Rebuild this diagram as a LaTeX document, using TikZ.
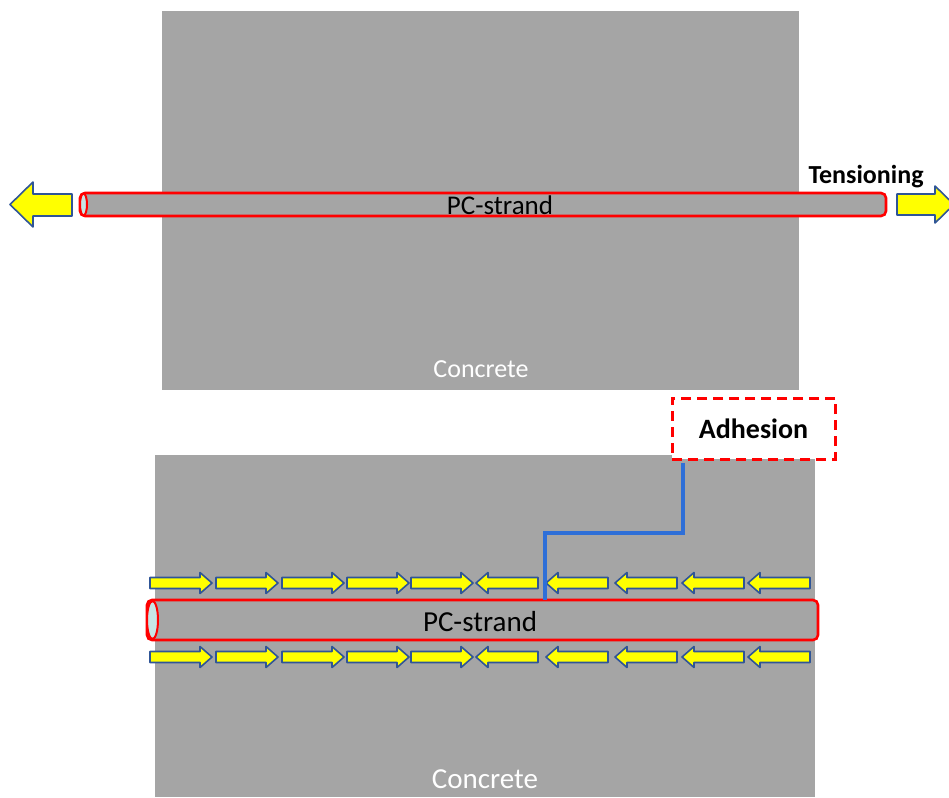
\documentclass[tikz,border=0pt]{standalone}
\usepackage{fontspec}
\setmainfont{Carlito}
\usetikzlibrary{positioning}
\definecolor{concretegray}{HTML}{A5A5A5}
\definecolor{strandred}{HTML}{FF0000}
\definecolor{arrowyellow}{HTML}{FFFF00}
\definecolor{arrowblue}{HTML}{2F5597}
\definecolor{bondblue}{HTML}{2E6FD8}
\tikzset{
  pics/bondarrow/.style={code={
    \draw[smallarrow] (0,-5.5) -- (50,-5.5) -- (50,-10.5) -- (62,0) -- (50,10.5) -- (50,5.5) -- (0,5.5) -- cycle;
  }}
}

\begin{document}
\begin{tikzpicture}[x=1pt,y=-1pt,
  concrete/.style={fill=concretegray},
  strand/.style={draw=strandred, line width=2.6pt, fill=concretegray, rounded corners=5pt, inner sep=0pt, outer sep=0pt},
  strandend/.style={draw=strandred, line width=2pt, fill=concretegray!70!cyan!40},
  bigarrow/.style={draw=arrowblue, line width=1.6pt, fill=arrowyellow, line join=round},
  smallarrow/.style={draw=arrowblue, line width=1.6pt, fill=arrowyellow, line join=round},
  concretelabel/.style={text=white, font=\fontsize{26}{28}\selectfont},
  strandlabel/.style={text=black, font=\fontsize{27}{29}\selectfont},
  boldlabel/.style={text=black, font=\bfseries\fontsize{26}{28}\selectfont},
  adhbox/.style={draw=strandred, line width=3pt, dash pattern=on 10pt off 6pt, fill=white, inner sep=0pt, font=\bfseries\fontsize{28}{30}\selectfont},
  bondline/.style={draw=bondblue, line width=4pt}]
  \useasboundingbox (0,0) rectangle (949,797);
  \clip (0,0) rectangle (949,797);

  % upper block: tensioning
  \fill[concrete] (162,11) rectangle (799,390);
  \node[concretelabel] (concA) at (481,369) {Concrete};
  \node[strand, minimum width=806pt, minimum height=23pt] (strandA) at (483,204.5) {};
  \draw[strandend] ([xshift=3.5pt]strandA.west) ellipse [x radius=3.5pt, y radius=11pt];
  \node[strandlabel] (labelA) at (500,205) {PC-strand};
  \draw[bigarrow] (10,204.5) -- (33,182) -- (33,194) -- (72,194) -- (72,216) -- (33,216) -- (33,227) -- cycle;
  \draw[bigarrow] (897,194) -- (935,194) -- (935,186) -- (954,204.5) -- (935,223) -- (935,215) -- (897,215) -- cycle;
  \node[boldlabel] (tension) at (866,177) {Tensioning};

  % lower block: bond
  \fill[concrete] (155,455) rectangle (815,797);
  \node[concretelabel, font=\fontsize{29}{31}\selectfont] (concB) at (485,779) {Concrete};
  \coordinate (kink) at (545,533);
  \node[strand, minimum width=671pt, minimum height=40pt] (strandB) at (482.5,620) {};
  \draw[strandend] ([xshift=5.5pt]strandB.west) ellipse [x radius=5.5pt, y radius=19pt];
  \node[strandlabel, font=\fontsize{29}{31}\selectfont] (labelB) at (480,622) {PC-strand};
  \foreach \xa in {150,216,282,347,411}
    \foreach \ya in {583,657}
      \pic at (\xa,\ya) {bondarrow};
  \foreach \xa in {476,546,615,682,748}
    \foreach \ya in {583,657}
      \pic[xscale=-1] at (\xa+62,\ya) {bondarrow};
  \node[adhbox, minimum width=163pt, minimum height=61pt] (adh) at (753.5,428.5) {Adhesion};
  \draw[bondline] ([xshift=12pt,yshift=-2pt]adh.south west) |- (kink) -- (kink |- strandB.north);
\end{tikzpicture}
\end{document}
